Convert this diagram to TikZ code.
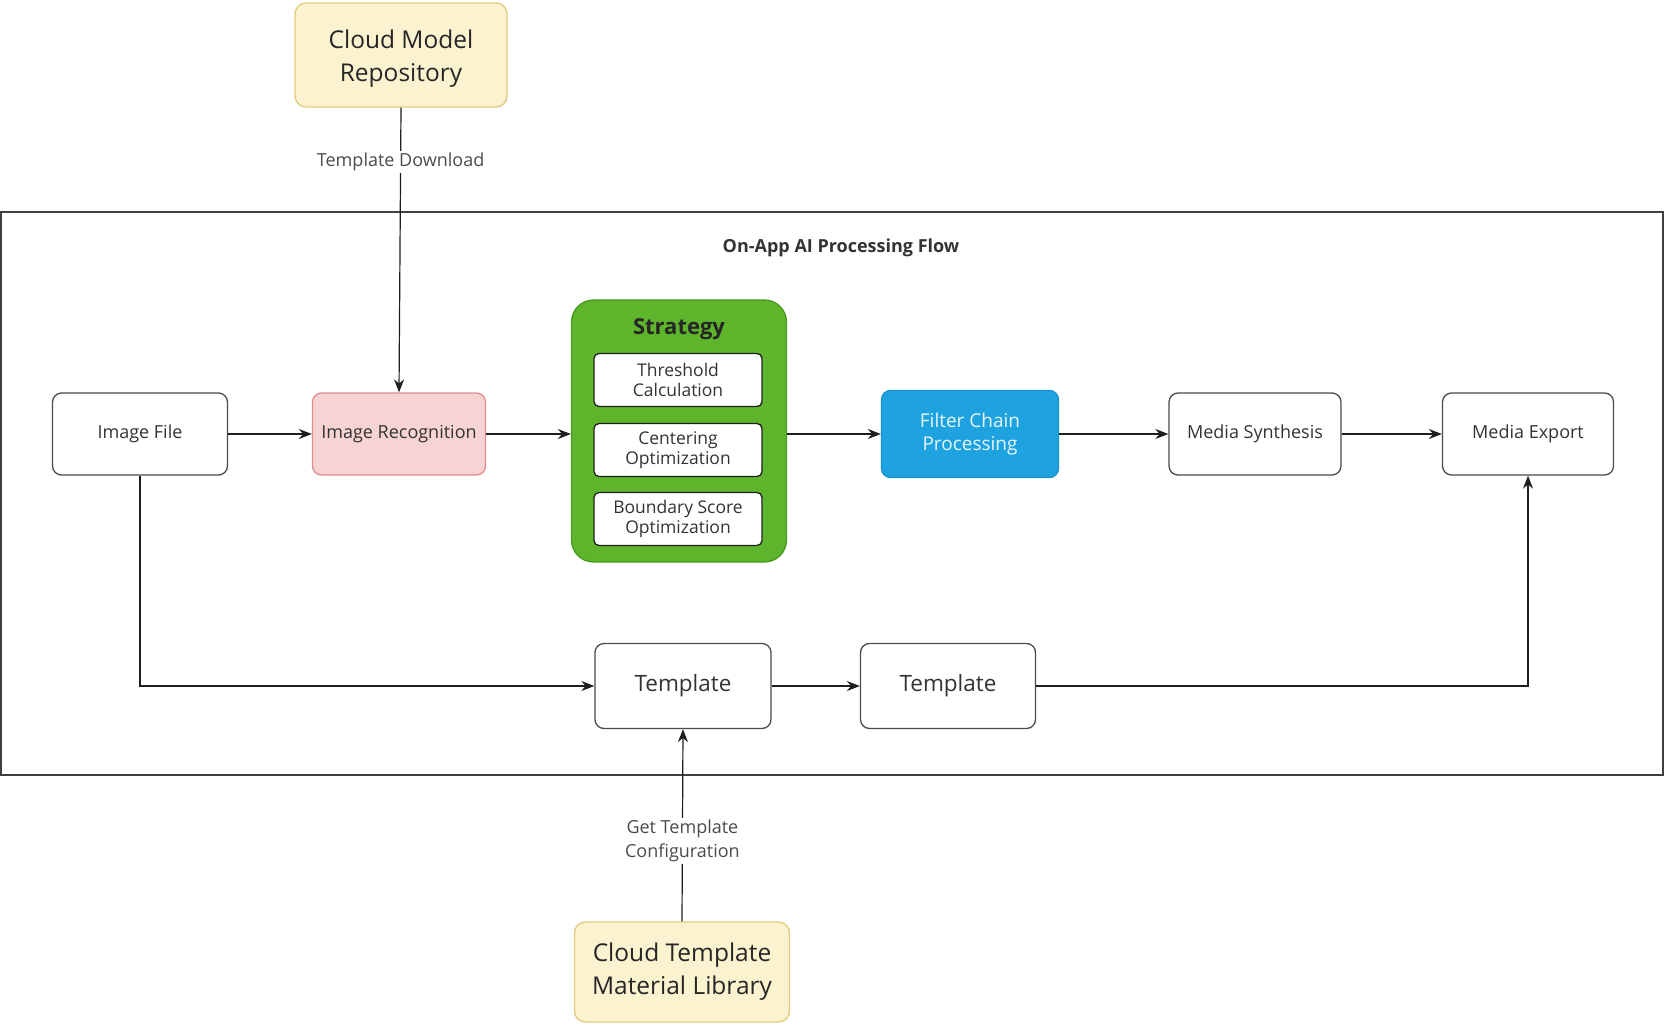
\documentclass[tikz,border=0pt]{standalone}
\usepackage{fontspec}
\setmainfont{Open Sans}
\usetikzlibrary{arrows.meta}
\definecolor{cloudfill}{HTML}{FBF3CF}
\definecolor{clouddraw}{HTML}{E3CA7E}
\definecolor{recfill}{HTML}{F8D3D4}
\definecolor{recdraw}{HTML}{DE8E8E}
\definecolor{stratfill}{HTML}{5EB52C}
\definecolor{stratdraw}{HTML}{4A9A22}
\definecolor{bluefill}{HTML}{1EA3E0}
\definecolor{bluedraw}{HTML}{1790CF}
\definecolor{linec}{HTML}{1E1E1E}
\definecolor{txt}{HTML}{333333}
\tikzset{
  every node/.style={font=\fontsize{18}{21}\selectfont, text=txt},
  procbox/.style={draw=linec!80, line width=1.3pt, rounded corners=9pt, fill=white, minimum width=#1, minimum height=82pt, align=center, inner sep=2pt},
  procbox/.default=172pt,
  cloudbox/.style={draw=clouddraw, line width=1.3pt, rounded corners=11pt, fill=cloudfill, align=center, font=\fontsize{24.5}{33}\selectfont, text=black!85},
  subbox/.style={draw=linec, line width=1.3pt, rounded corners=5pt, fill=white, minimum width=168pt, minimum height=53pt, align=center, font=\fontsize{17.5}{20}\selectfont, inner sep=1pt},
  conn/.style={draw=linec, line width=1.2pt, -{Stealth[length=13pt,width=10pt]}},
  lbl/.style={fill=white, inner sep=2pt, font=\fontsize{18}{24}\selectfont, text=black!70, align=center}
}
\begin{document}
\begin{tikzpicture}[x=1pt,y=-1pt]
\useasboundingbox (0,0) rectangle (1665,1024);
\fill[white] (0,0) rectangle (1665,1024);
% outer frame
\node[draw=linec!85, line width=1.4pt, minimum width=1662pt, minimum height=563pt, inner sep=0pt] (frame) at (832,493.5) {};
\node[font=\bfseries\fontsize{18}{21}\selectfont, text=black!80] (title) at (841,248) {On-App AI Processing Flow};
% cloud nodes
\node[cloudbox, minimum width=212pt, minimum height=104pt] (cmr) at (401,55) {\\[-8pt]Cloud Model\\Repository};
\node[cloudbox, minimum width=215pt, minimum height=100pt] (ctl) at (682,972) {Cloud Template\\Material Library};
% main row
\node[procbox=175pt] (img) at (140,434) {Image File};
\node[procbox=173pt, fill=recfill, draw=recdraw] (rec) at (399,434) {Image Recognition};
\node[draw=stratdraw, line width=1.3pt, fill=stratfill, rounded corners=22pt, minimum width=215pt, minimum height=262pt] (strat) at (679,431) {};
\node[font=\bfseries\fontsize{22}{25}\selectfont, text=black!85] (strattitle) at (679,329) {Strategy};
\node[subbox] (s1) at (678,380) {Threshold\\Calculation};
\node[subbox] (s2) at (678,450) {Centering\\Optimization};
\node[subbox] (s3) at (678,519) {Boundary Score\\Optimization};
\node[procbox=177pt, minimum height=87pt, fill=bluefill, draw=bluedraw, text=white!90!bluefill, font=\fontsize{19}{23}\selectfont] (filt) at (970,434) {Filter Chain\\Processing};
\node[procbox=172pt] (syn) at (1255,434) {Media Synthesis};
\node[procbox=171pt] (exp) at (1528,434) {Media Export};
% bottom row
\node[procbox=176pt, minimum height=85pt, font=\fontsize{22.5}{26}\selectfont] (t1) at (683,686) {Template};
\node[procbox=175pt, minimum height=85pt, font=\fontsize{22.5}{26}\selectfont] (t2) at (948,686) {Template};
% connectors
\draw[conn] (cmr.south) -- node[lbl, pos=0.19] (lbl1) {Template Download} (rec.north);
\draw[conn] (img) -- (rec);
\draw[conn] (rec.east) -- (rec.east -| strat.west);
\draw[conn] (strat.east |- filt) -- (filt);
\draw[conn] (filt) -- (syn);
\draw[conn] (syn) -- (exp);
\draw[conn] (img.south) |- (t1.west);
\draw[conn] (t1) -- (t2);
\draw[conn] (t2.east) -| (exp.south);
\draw[conn] (ctl.north) -- node[lbl, pos=0.42] (lbl2) {Get Template\\Configuration} (t1.south);
\end{tikzpicture}
\end{document}
